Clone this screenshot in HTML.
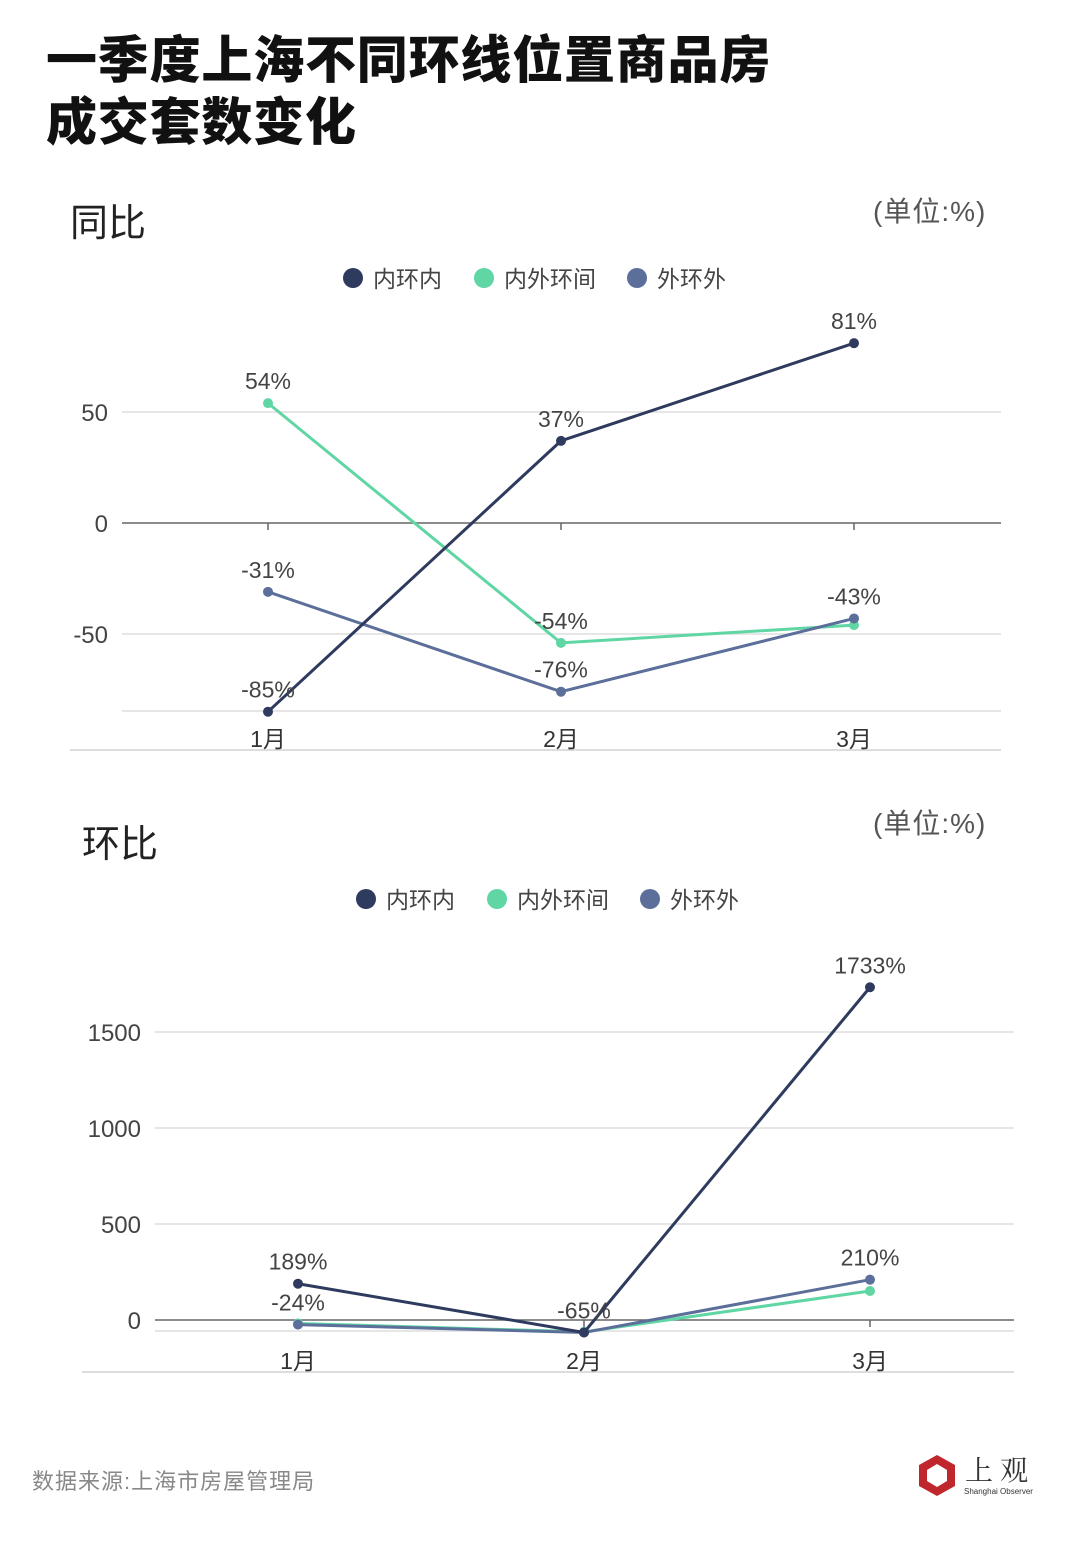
<!DOCTYPE html>
<html><head><meta charset="utf-8">
<style>
body{margin:0;background:#fff;font-family:"Liberation Sans","Noto Sans CJK SC",sans-serif;}
.wrap{position:relative;width:1080px;height:1558px;overflow:hidden;background:#fff}
.t{position:absolute;white-space:nowrap}
</style></head><body>
<div class="wrap">
<div class="t" style="left:46px;top:30px;font-size:51px;letter-spacing:0.8px;font-weight:900;line-height:62px;color:#111">一季度上海不同环线位置商品房<br>成交套数变化</div>
<div class="t" style="left:70px;top:192px;font-size:38px;color:#222">同比</div>
<div class="t" style="left:873px;top:190px;font-size:28px;letter-spacing:1px;color:#555">(单位:%)</div>
<div class="t" style="left:82px;top:813px;font-size:38px;color:#222">环比</div>
<div class="t" style="left:873px;top:802px;font-size:28px;letter-spacing:1px;color:#555">(单位:%)</div>
<div class="t" style="left:32px;top:1464px;font-size:22px;letter-spacing:1px;color:#888">数据来源:上海市房屋管理局</div>
<svg style="position:absolute;left:0;top:0" width="1080" height="1558" id="svg">
<g>
<polygon points="937,1455 955,1465 955,1486 937,1496 919,1486 919,1465" fill="#c0272d"/>
<polygon points="937,1464 947,1470 947,1481 937,1487 927,1481 927,1470" fill="#fff"/>
<text x="965" y="1480" font-size="28" fill="#333" font-family="Noto Serif CJK SC,serif">上 观</text>
<text x="964" y="1494" font-size="8" fill="#333">Shanghai Observer</text>
</g>
</svg>
</div>
<script>
const months=["1月","2月","3月"];
const seriesNames=["内环内","内外环间","外环外"];
const colors=["#2f3b5e","#5fd6a4","#5c6f9a"];
const yoyInner=[-85,37,81];
const yoyMid=[54,-54,-46];
const yoyOuter=[-31,-76,-43];
const yoyLabels=[["-85%","37%","81%"],["54%","-54%",""],["-31%","-76%","-43%"]];
const yoyTicks=[50,0,-50];
const momInner=[189,-65,1733];
const momMid=[-18,-62,151];
const momOuter=[-24,-65,210];
const momLabels=[["189%","-65%","1733%"],["","",""],["-24%","","210%"]];
const momTicks=[1500,1000,500,0];
const NS="http://www.w3.org/2000/svg";
const svg=document.getElementById('svg');
function mk(t,a,p){const e=document.createElementNS(NS,t);for(const k in a)e.setAttribute(k,a[k]);(p||svg).appendChild(e);return e;}
function chart(cfg){
  const y=v=>cfg.y0+(v)*cfg.k;
  const x=i=>cfg.xs+i*cfg.dx;
  const g=mk('g',{});
  
  
  cfg.ticks.forEach(t=>{
    const l=mk('line',{x1:cfg.gl,x2:cfg.gr,y1:y(t),y2:y(t),stroke:t===0?'#666':'#ddd','stroke-width':1.5},g);
    
    
    const tx=mk('text',{x:cfg.tx,y:y(t)+9,'text-anchor':'end','font-size':24,fill:'#444'},g);
    tx.textContent=t;
    
    
  });
  const bl=mk('line',{x1:cfg.gl,x2:cfg.gr,y1:y(cfg.min),y2:y(cfg.min),stroke:'#ddd','stroke-width':1.5},g);
  
  
  const ax=mk('line',{x1:cfg.al,x2:cfg.gr,y1:cfg.axY,y2:cfg.axY,stroke:'#ddd','stroke-width':2},g);
  
  
  months.forEach((m,i)=>{
    mk('line',{x1:x(i),x2:x(i),y1:y(0),y2:y(0)+7,stroke:'#666','stroke-width':1.5},g);
    const tx=mk('text',{x:x(i),y:cfg.axY-3,'text-anchor':'middle','font-size':23,fill:'#333'},g);
    tx.textContent=m;
    
    
  });
  const order=[1,2,0];
  order.forEach(s=>{
    const d=cfg.data[s];
    const pl=mk('polyline',{points:d.map((v,i)=>x(i)+','+y(v)).join(' '),fill:'none',stroke:colors[s],'stroke-width':3},g);
    
    
    d.forEach((v,i)=>{
      const c=mk('circle',{cx:x(i),cy:y(v),r:5,fill:colors[s]},g);
      
      
      const lb=cfg.labels[s][i];
      if(lb){const t=mk('text',{x:x(i),y:y(v)-14,'text-anchor':'middle','font-size':23,fill:'#444'},g);
        t.textContent=lb;
        
        }
    });
  });
  const lx=cfg.legX;
  seriesNames.forEach((n,s)=>{
    const off=[0,131,284][s];
    const c=mk('circle',{cx:lx+off,cy:cfg.legY,r:10,fill:colors[s]},g);
    
    
    const t=mk('text',{x:lx+off+20,y:cfg.legY+9,'font-size':23,fill:'#444'},g);
    t.textContent=n;
    
    
  });
}
chart({name:'yoy-chart',y0:523,k:-2.22,xs:268,dx:293,gl:122,gr:1001,al:70,axY:750,tx:108,min:-84.7,
  ticks:yoyTicks,data:[yoyInner,yoyMid,yoyOuter],labels:yoyLabels,legX:353,legY:278});
chart({name:'mom-chart',y0:1320,k:-0.192,xs:298,dx:286,gl:155,gr:1014,al:82,axY:1372,tx:141,min:-57,
  ticks:momTicks,data:[momInner,momMid,momOuter],labels:momLabels,legX:366,legY:899});
</script>
</body></html>
